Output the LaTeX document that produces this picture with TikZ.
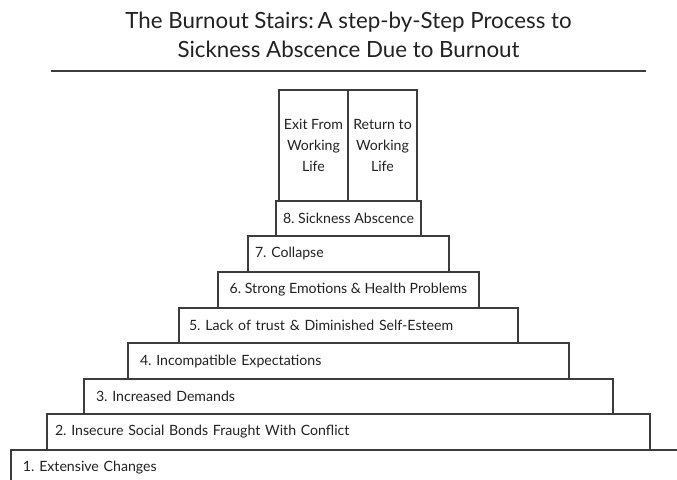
\documentclass[tikz,border=0pt]{standalone}
\usepackage{fontspec}
\setmainfont{Lato}
\definecolor{linec}{HTML}{3C3C3C}
\definecolor{txtc}{HTML}{222222}
\newlength\boxwd
\newlength\titwd
\begin{document}
\frenchspacing
\settowidth\boxwd{\fontsize{10pt}{12pt}\selectfont 8. Sickness Abscence}%
\settowidth\titwd{\fontsize{10pt}{12pt}\selectfont Sickness Abscence Due to Burnout}%
\pgfmathsetmacro\bfs{10*131/\boxwd}%
\pgfmathsetmacro\tfs{10*342/\titwd}%
\begin{tikzpicture}[x=1pt,y=-1pt,
  stairbox/.style={draw=linec, line width=1.1pt, anchor=north west, inner ysep=0pt, outer sep=0pt,
    text=txtc, font=\fontsize{\bfs pt}{21pt}\selectfont},
  leftbox/.style={stairbox, align=left},
  midbox/.style={stairbox, align=center, inner xsep=0pt},
  titletext/.style={anchor=base, text=txtc, inner sep=0pt, font=\fontsize{\tfs pt}{29pt}\selectfont}]
\useasboundingbox (0,0) rectangle (677,479);
\clip (0,0) rectangle (677,479);
\fill[white] (0,0) rectangle (677,479);
% title
\node[titletext] (title1) at (348.5,28) {The Burnout Stairs:\,A step-by-Step Process to};
\node[titletext] (title2) at (348.5,57.5) {Sickness Abscence Due to Burnout};
\coordinate (ruleL) at (51,71);
\coordinate (ruleR) at (646,71);
\draw[draw=linec, line width=1.8pt] (ruleL) -- (ruleR);
% stairs
\node[leftbox, minimum width=680pt, minimum height=36pt, text width=656pt, inner xsep=12pt] (s1) at (11,450) {1. Extensive Changes};
\node[leftbox, minimum width=603pt, minimum height=36pt, text width=587pt, inner xsep=8pt] (s2) at (47,414) {2. Insecure Social Bonds Fraught With Conflict};
\node[leftbox, minimum width=529pt, minimum height=35pt, text width=505pt, inner xsep=12pt] (s3) at (84,379) {3. Increased Demands};
\node[leftbox, minimum width=441pt, minimum height=36pt, text width=417pt, inner xsep=12pt] (s4) at (128,343) {4. Incompatible Expectations};
\node[leftbox, minimum width=339pt, minimum height=35pt, text width=319pt, inner xsep=10pt] (s5) at (179,308) {5. Lack of trust \& Diminished Self-Esteem};
\node[midbox, minimum width=261pt, minimum height=36pt] (s6) at (218,272) {6. Strong Emotions \& Health Problems};
\node[leftbox, minimum width=201pt, minimum height=36pt, text width=187pt, inner xsep=7pt] (s7) at (248,236) {7. Collapse};
\node[midbox, minimum width=69pt, minimum height=111pt] (exit) at (279,90) {Exit From\\Working\\Life};
\node[midbox, minimum width=69pt, minimum height=111pt] (ret) at (348,90) {Return to\\Working\\Life};
\node[midbox, minimum width=145pt, minimum height=35pt] (s8) at (276,201) {8. Sickness Abscence};
\end{tikzpicture}
\end{document}
